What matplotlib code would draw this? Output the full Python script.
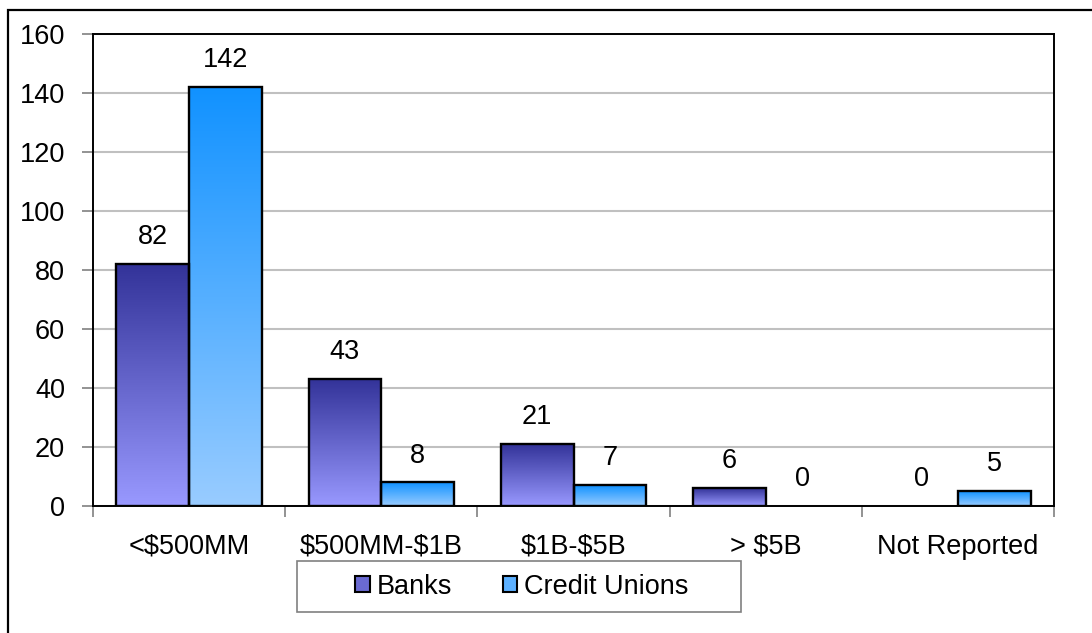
import numpy as np
import matplotlib
matplotlib.use("Agg")
import matplotlib.pyplot as plt
from matplotlib.colors import LinearSegmentedColormap
from matplotlib.patches import Rectangle, Patch

plt.rcParams["font.family"] = ["Liberation Sans", "DejaVu Sans"]
plt.rcParams["text.parse_math"] = False  # dollar signs are literal

# ── data ────────────────────────────────────────────────────────────────
categories = ["<$500MM", "$500MM-$1B", "$1B-$5B", "> $5B", "Not Reported"]
banks = [82, 43, 21, 6, 0]
credit_unions = [142, 8, 7, 0, 5]
series_names = ["Banks", "Credit Unions"]

# gradient end colours per series (top, bottom)
grad_colors = [("#333399", "#9999ff"), ("#1192ff", "#99ccff")]
legend_colors = ["#6a6ad2", "#5cb0ff"]

FS = 19.5
BAR_W = 0.378

fig = plt.figure(figsize=(10.92, 6.33), dpi=100)
ax = fig.add_axes([93 / 1092, 1 - 506 / 633, (1054 - 93) / 1092, (506 - 34) / 633])

x = np.arange(len(categories))
grad = np.linspace(0, 1, 256).reshape(-1, 1)

for k, vals in enumerate([banks, credit_unions]):
    cmap = LinearSegmentedColormap.from_list(f"g{k}", [grad_colors[k][1], grad_colors[k][0]])
    offs = (k - 0.5) * BAR_W
    bars = ax.bar(x + offs, vals, width=BAR_W, color="none", edgecolor="black",
                  linewidth=1.7, zorder=4)
    for b, v in zip(bars, vals):
        if v <= 0:
            b.set_linewidth(0)
        else:
            x0, w, h = b.get_x(), b.get_width(), b.get_height()
            im = ax.imshow(grad, cmap=cmap, origin="lower", aspect="auto",
                           extent=(x0, x0 + w, 0, h), zorder=3)
            im.set_clip_path(b)
        ax.annotate(f"{v}", (b.get_x() + b.get_width() / 2, v),
                    xytext=(0, 10), textcoords="offset points",
                    ha="center", va="bottom", fontsize=FS, zorder=5)

ax.set_xlim(-0.5, len(categories) - 0.5)
ax.set_ylim(0, 160)
ax.set_yticks(np.arange(0, 161, 20))
ax.yaxis.grid(True, color="#c0c0c0", linewidth=1.5, zorder=0)
ax.set_axisbelow(True)

ax.set_xticks(x)
ax.set_xticklabels(categories)
ax.set_xticks(np.arange(-0.5, len(categories)), minor=True)
ax.tick_params(axis="x", which="major", length=0, pad=20, labelsize=FS)
ax.tick_params(axis="x", which="minor", length=8, width=1.2, color="#808080")
ax.tick_params(axis="y", length=8, width=1.2, color="#808080", pad=12, labelsize=FS)

for sp in ax.spines.values():
    sp.set_color("black")
    sp.set_linewidth(1.4)

# legend box
fig.patches.append(Rectangle((297 / 1092, 1 - 612 / 633), (741 - 297) / 1092, 51 / 633,
                             transform=fig.transFigure, facecolor="white",
                             edgecolor="#808080", linewidth=1.2))
handles = [Patch(facecolor=c, edgecolor="black", linewidth=1.5) for c in legend_colors]
fig.legend(handles, series_names, loc="center", bbox_to_anchor=(522 / 1092, 1 - 586.5 / 633),
           ncol=2, frameon=False, fontsize=FS, handlelength=0.55, handleheight=0.55,
           handletextpad=0.25, columnspacing=1.85)

# outer chart frame
fig.patches.append(Rectangle((8 / 1092, -0.1), 1.2, 1.1 - 10 / 633,
                             transform=fig.transFigure, facecolor="none",
                             edgecolor="black", linewidth=1.6))

fig.savefig("out.png", dpi=100)
